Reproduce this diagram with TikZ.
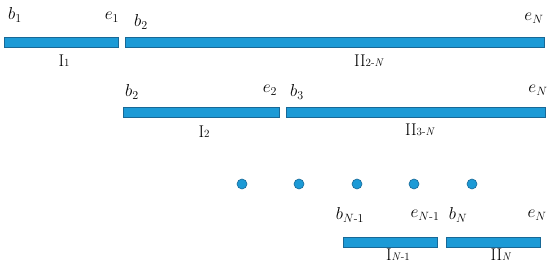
\documentclass[tikz,border=0pt]{standalone}
\usepackage{amsmath}
\definecolor{barfill}{RGB}{28,154,214}
\definecolor{barline}{RGB}{24,104,150}
\tikzset{
  bar/.style={draw=barline, fill=barfill, line width=0.7pt, inner sep=0pt, anchor=north west},
  dotmark/.style={circle, draw=barline, fill=barfill, line width=0.6pt, minimum size=10pt, inner sep=0pt},
  lbl/.style={inner sep=0pt, anchor=base, font=\fontsize{17}{20}\selectfont},
  seg/.style={inner sep=0pt, anchor=base, font=\fontsize{17}{20}\selectfont},
}
\newcommand{\sbs}[1]{{\fontsize{11}{13}\selectfont #1}}
\begin{document}
\begin{tikzpicture}[x=1pt,y=-1pt]
\useasboundingbox (0,0) rectangle (550,272);
% row 1
\node[bar, minimum width=114pt, minimum height=10pt] (r1a) at (4,37) {};
\node[bar, minimum width=419pt, minimum height=10pt] (r1b) at (125,37) {};
\node[lbl] (b1) at (15,20) {$b_1$};
\node[lbl] (e1) at (112,20) {$e_1$};
\node[lbl] (b2a) at (141,27) {$b_2$};
\node[lbl] (eNa) at (534,21) {$e_N$};
\node[seg] (I1) at (64,67) {I\sbs{1}};
\node[seg] (II2N) at (369,67) {II\sbs{2-\textit{N}}};
% row 2
\node[bar, minimum width=156pt, minimum height=10pt] (r2a) at (123,107) {};
\node[bar, minimum width=259pt, minimum height=10pt] (r2b) at (286,107) {};
\node[lbl] (b2b) at (132,97) {$b_2$};
\node[lbl] (e2) at (270,93) {$e_2$};
\node[lbl] (b3) at (297,97) {$b_3$};
\node[lbl] (eNb) at (538,93) {$e_N$};
\node[seg] (I2) at (204,138) {I\sbs{2}};
\node[seg] (II3N) at (420,136) {II\sbs{3-\textit{N}}};
% dots
\foreach \x [count=\i] in {242,299,357,414,472} {
  \node[dotmark] (d\i) at (\x,184) {};
}
% row 3
\node[bar, minimum width=94pt, minimum height=10pt] (r3a) at (343,237) {};
\node[bar, minimum width=94pt, minimum height=10pt] (r3b) at (446,237) {};
\node[lbl] (bN1) at (350,220) {$b_{N\text{-}1}$};
\node[lbl] (eN1) at (425,218) {$e_{N\text{-}1}$};
\node[lbl] (bN) at (458,220) {$b_N$};
\node[lbl] (eNc) at (537,218) {$e_N$};
\node[seg] (IN1) at (398,261) {I\sbs{\textit{N}-1}};
\node[seg] (IIN) at (501,261) {II\sbs{\textit{N}}};
\end{tikzpicture}
\end{document}
